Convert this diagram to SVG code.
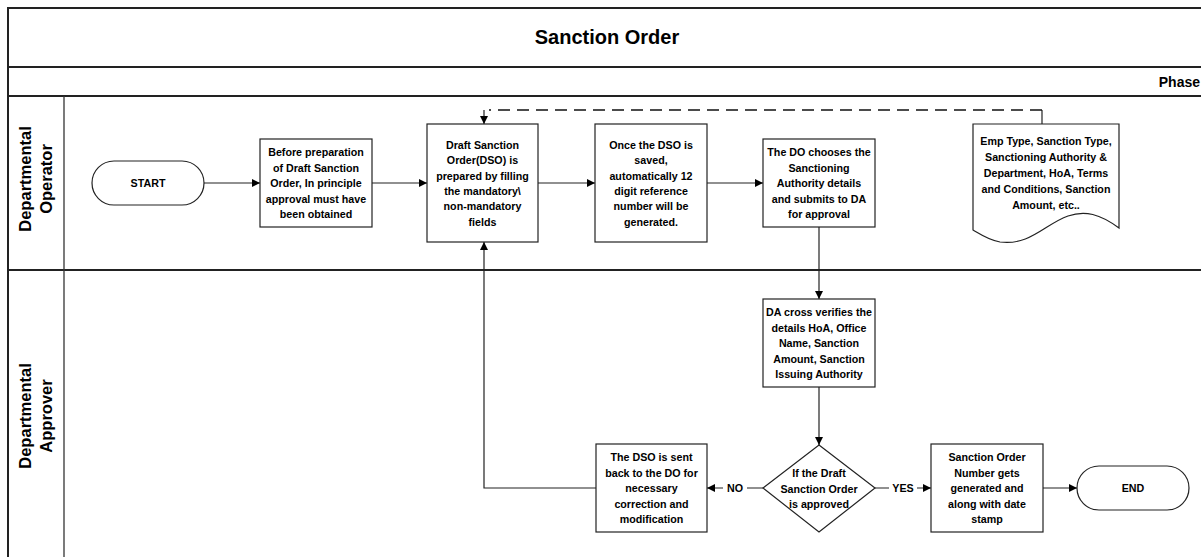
<svg xmlns="http://www.w3.org/2000/svg" width="1201" height="557" viewBox="0 0 1201 557">
<style>
.frame{fill:none;stroke:#222;stroke-width:2}
.thin{fill:none;stroke:#333;stroke-width:1.3}
.box{fill:#fff;stroke:#222;stroke-width:1.2}
.t{font-family:"Liberation Sans",Arial,sans-serif;font-weight:bold;font-size:10.7px;fill:#000;text-anchor:middle}
.lane{font-family:"Liberation Sans",Arial,sans-serif;font-weight:bold;font-size:16.5px;fill:#000;text-anchor:middle}
.conn{fill:none;stroke:#222;stroke-width:1.2}
.dash{fill:none;stroke:#111;stroke-width:1.6;stroke-dasharray:12,7}
</style>
<defs>
<marker id="arr" markerUnits="userSpaceOnUse" markerWidth="9" markerHeight="9" refX="8" refY="4" orient="auto">
<path d="M0,0 L8,4 L0,8 z" fill="#000"/>
</marker>
</defs>
<rect width="1201" height="557" fill="#fff"/>
<g id="pool">
<rect class="frame" x="8" y="8" width="1200" height="560"/>
<line class="frame" x1="8" y1="67" x2="1201" y2="67"/>
<line class="frame" x1="8" y1="96" x2="1201" y2="96"/>
<line class="frame" x1="8" y1="270" x2="1201" y2="270"/>
<line class="thin" x1="64" y1="96" x2="64" y2="557"/>
<text x="607" y="44" style="font-family:'Liberation Sans',Arial,sans-serif;font-weight:bold;font-size:20px;text-anchor:middle">Sanction Order</text>
<text x="1200" y="87" style="font-family:'Liberation Sans',Arial,sans-serif;font-weight:bold;font-size:14px;text-anchor:end">Phase</text>
</g>
<g id="lane-operator">
<text class="lane" transform="translate(0,179) rotate(-90)"><tspan x="0" y="31">Departmental</tspan><tspan x="0" y="52">Operator</tspan></text>
</g>
<g id="lane-approver">
<text class="lane" transform="translate(0,416) rotate(-90)"><tspan x="0" y="31">Departmental</tspan><tspan x="0" y="52">Approver</tspan></text>
</g>
<g id="connectors">
<path class="conn" d="M204,183 H260" marker-end="url(#arr)"/>
<path class="conn" d="M372,183 H427" marker-end="url(#arr)"/>
<path class="conn" d="M538,183 H595" marker-end="url(#arr)"/>
<path class="conn" d="M707,183 H763" marker-end="url(#arr)"/>
<path class="conn" d="M819,227 V299" marker-end="url(#arr)"/>
<path class="conn" d="M819,387 V445" marker-end="url(#arr)"/>
<path class="conn" d="M763,488 H707" marker-end="url(#arr)"/>
<path class="conn" d="M875,488 H931" marker-end="url(#arr)"/>
<path class="conn" d="M1043,488 H1077" marker-end="url(#arr)"/>
<path class="conn" d="M596,488 H484 V242" marker-end="url(#arr)"/>
<path class="conn" d="M1042,124 V110"/>
<path class="dash" d="M1042,110 H489"/>
<path class="conn" d="M484,110 V124" marker-end="url(#arr)"/>
<rect x="723" y="481" width="24" height="14" fill="#fff"/>
<text class="t" x="735" y="492">NO</text>
<rect x="889" y="481" width="28" height="14" fill="#fff"/>
<text class="t" x="903" y="492">YES</text>
</g>
<g id="start">
<rect class="box" x="92" y="161" width="112" height="44" rx="22" ry="22"/>
<text class="t" x="148" y="187">START</text>
</g>
<g id="step1">
<rect class="box" x="260" y="139" width="112" height="88"/>
<text class="t"><tspan x="316" y="156">Before preparation</tspan><tspan x="316" y="171.5">of Draft Sanction</tspan><tspan x="316" y="187">Order, In principle</tspan><tspan x="316" y="202.5">approval must have</tspan><tspan x="316" y="218">been obtained</tspan></text>
</g>
<g id="step2">
<rect class="box" x="427" y="124" width="111" height="118"/>
<text class="t"><tspan x="482.5" y="149">Draft Sanction</tspan><tspan x="482.5" y="164.3">Order(DSO) is</tspan><tspan x="482.5" y="179.6">prepared by filling</tspan><tspan x="482.5" y="194.9">the mandatory\</tspan><tspan x="482.5" y="210.2">non-mandatory</tspan><tspan x="482.5" y="225.5">fields</tspan></text>
</g>
<g id="step3">
<rect class="box" x="595" y="124" width="112" height="118"/>
<text class="t"><tspan x="651" y="149">Once the DSO is</tspan><tspan x="651" y="164.3">saved,</tspan><tspan x="651" y="179.6">automatically 12</tspan><tspan x="651" y="194.9">digit reference</tspan><tspan x="651" y="210.2">number will be</tspan><tspan x="651" y="225.5">generated.</tspan></text>
</g>
<g id="step4">
<rect class="box" x="763" y="139" width="112" height="88"/>
<text class="t"><tspan x="819" y="156">The DO chooses the</tspan><tspan x="819" y="171.5">Sanctioning</tspan><tspan x="819" y="187">Authority details</tspan><tspan x="819" y="202.5">and submits to DA</tspan><tspan x="819" y="218">for approval</tspan></text>
</g>
<g id="document">
<path class="box" d="M973,124 H1119 V228 C1100,214 1085,210 1068,216 C1045,224 1030,246 1000,242 C988,240 980,234 973,230 Z"/>
<text class="t"><tspan x="1046" y="145">Emp Type, Sanction Type,</tspan><tspan x="1046" y="161">Sanctioning Authority &amp;</tspan><tspan x="1046" y="177">Department, HoA, Terms</tspan><tspan x="1046" y="193">and Conditions, Sanction</tspan><tspan x="1046" y="209">Amount, etc..</tspan></text>
</g>
<g id="verify">
<rect class="box" x="763" y="299" width="112" height="88"/>
<text class="t"><tspan x="819" y="316">DA cross verifies the</tspan><tspan x="819" y="331.5">details HoA, Office</tspan><tspan x="819" y="347">Name, Sanction</tspan><tspan x="819" y="362.5">Amount, Sanction</tspan><tspan x="819" y="378">Issuing Authority</tspan></text>
</g>
<g id="decision">
<path class="box" d="M819,445 L875,488 L819,532 L763,488 Z"/>
<text class="t"><tspan x="819" y="477">If the Draft</tspan><tspan x="819" y="492.5">Sanction Order</tspan><tspan x="819" y="508">is approved</tspan></text>
</g>
<g id="sendback">
<rect class="box" x="596" y="444" width="111" height="88"/>
<text class="t"><tspan x="651.5" y="461">The DSO is sent</tspan><tspan x="651.5" y="476.5">back to the DO for</tspan><tspan x="651.5" y="492">necessary</tspan><tspan x="651.5" y="507.5">correction and</tspan><tspan x="651.5" y="523">modification</tspan></text>
</g>
<g id="generated">
<rect class="box" x="931" y="444" width="112" height="88"/>
<text class="t"><tspan x="987" y="461">Sanction Order</tspan><tspan x="987" y="476.5">Number gets</tspan><tspan x="987" y="492">generated and</tspan><tspan x="987" y="507.5">along with date</tspan><tspan x="987" y="523">stamp</tspan></text>
</g>
<g id="end">
<rect class="box" x="1077" y="466" width="112" height="44" rx="22" ry="22"/>
<text class="t" x="1133" y="492">END</text>
</g>
</svg>
